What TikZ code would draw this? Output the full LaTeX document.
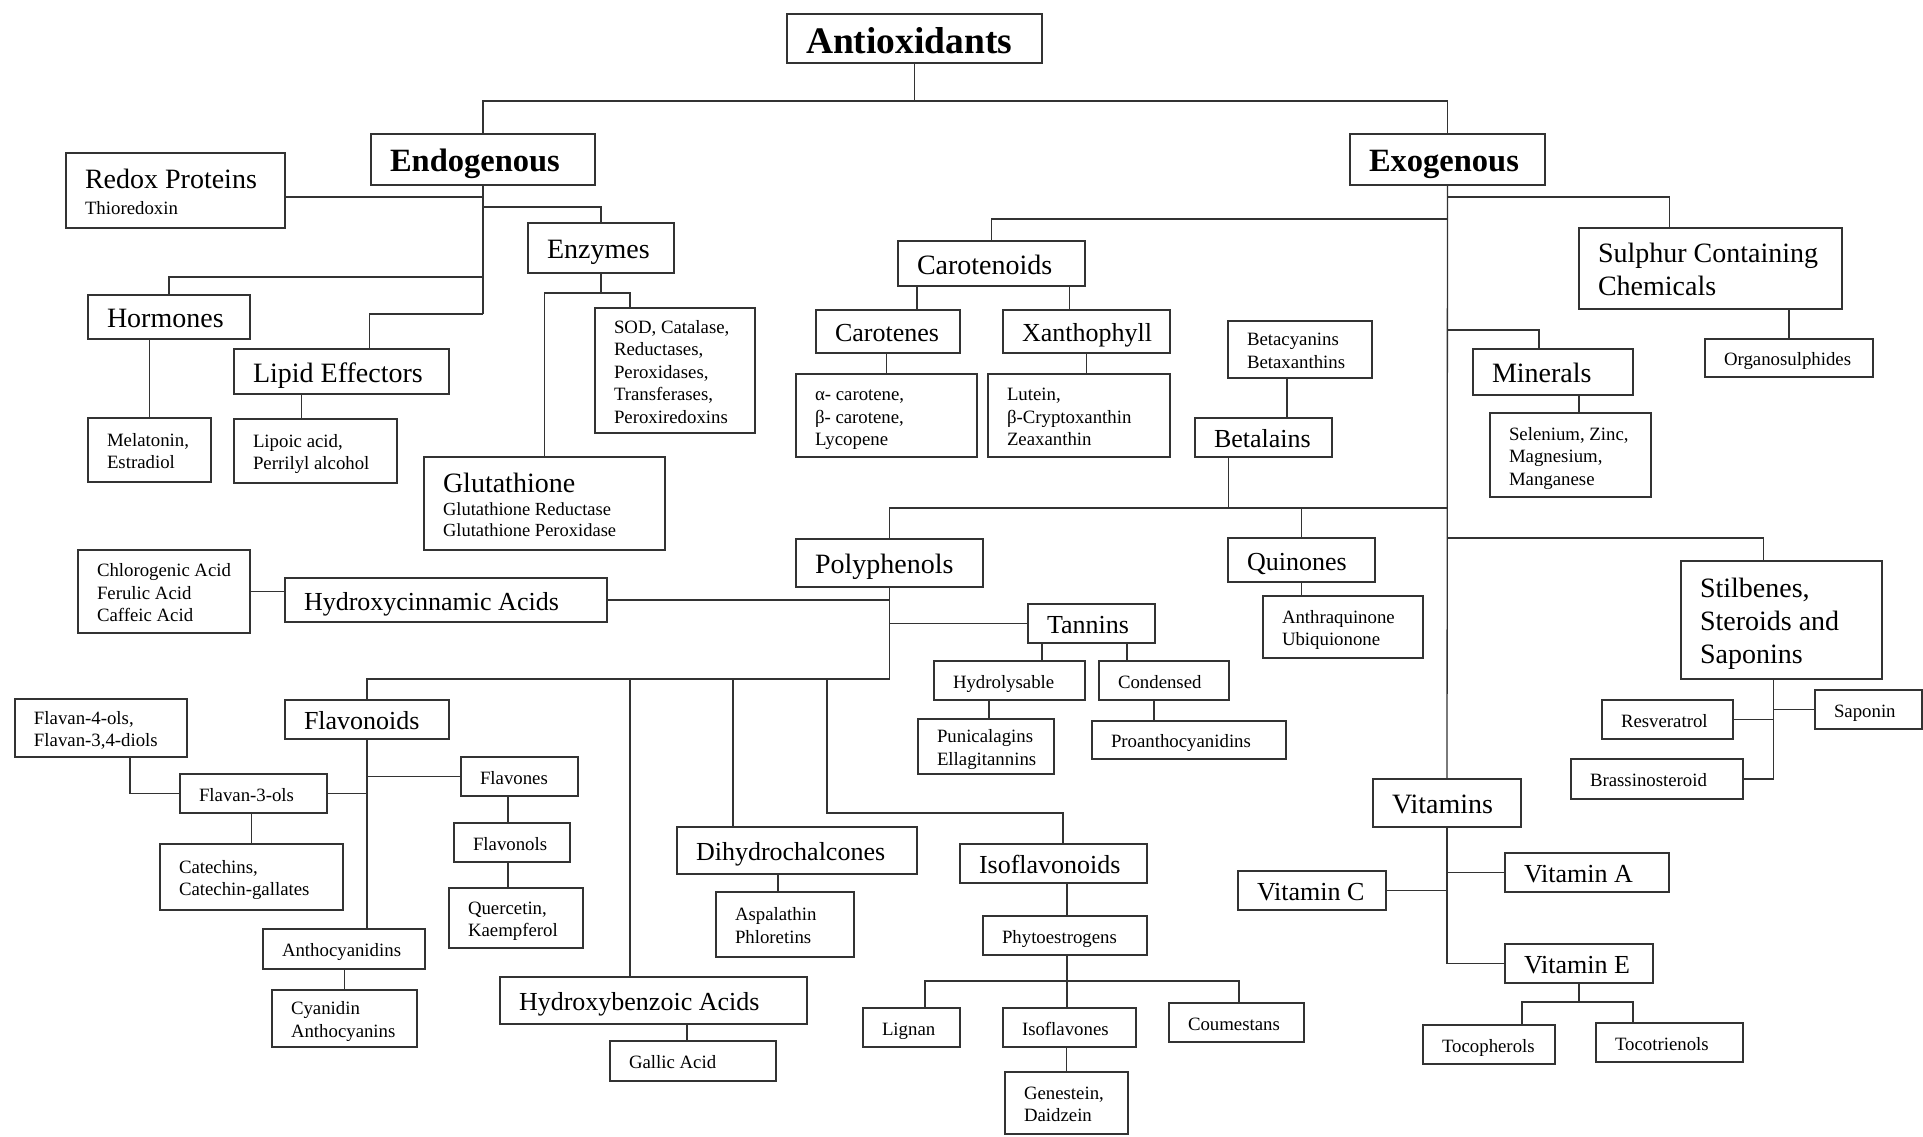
\documentclass[tikz,border=0pt]{standalone}
\usepackage{fontspec}
\setmainfont{Liberation Serif}
\usepackage{tikz}
\usetikzlibrary{positioning}

\tikzset{
  box/.style={draw=black!80, line width=1.5pt, anchor=north west, align=flush left,
    inner xsep=19pt, inner ysep=0pt, outer sep=0pt},
  wh/.style 2 args={minimum width=#1, minimum height=#2, text width=#1-38},
  rootfont/.style={font=\fontsize{37.5}{42}\selectfont\bfseries, text height=30.5, text depth=0pt},
  head/.style={font=\fontsize{32.5}{36}\selectfont\bfseries, text height=24, text depth=0pt},
  mida/.style={font=\fontsize{28}{33}\selectfont, text height=21.5, text depth=0pt},
  midb/.style={font=\fontsize{26}{31}\selectfont, text height=20, text depth=0pt},
  sm/.style={font=\fontsize{18.8}{22.5}\selectfont, text height=15.3, text depth=0pt},
  rows/.style={text depth=#1},
  link/.style={draw=black!80, line width=1.3pt},
}

\begin{document}
\begin{tikzpicture}[x=1pt, y=-1pt]
\useasboundingbox (0,0) rectangle (1923,1136);
\fill[white] (0,0) rectangle (1923,1136);

% top levels
\node[box, rootfont, wh={255}{49}] (anti) at (787,14) {Antioxidants};
\node[box, head, wh={224}{51}] (endo) at (371,134) {Endogenous};
\node[box, head, wh={195}{51}] (exo) at (1350,134) {Exogenous};

% endogenous
\node[box, sm, wh={219}{75}, text height=21.5, rows=26] (redox) at (66,153) {{\fontsize{28}{33}\selectfont Redox~Proteins}\\[3.5pt]Thioredoxin};
\node[box, mida, wh={146}{50}] (enz) at (528,223) {Enzymes};
\node[box, mida, wh={162}{44}] (horm) at (88,295) {Hormones};
\node[box, mida, wh={215}{45}] (lipid) at (234,349) {Lipid~Effectors};
\node[box, sm, wh={123}{64}, rows=22.5] (melat) at (88,418) {Melatonin,\\Estradiol};
\node[box, sm, wh={163}{64}, rows=22.5] (lipoic) at (234,419) {Lipoic~acid,\\Perrilyl~alcohol};
\node[box, sm, wh={160}{125}, rows=90] (sod) at (595,308) {SOD,~Catalase,\\Reductases,\\Peroxidases,\\Transferases,\\Peroxiredoxins};
\node[box, font=\fontsize{18.5}{20.5}\selectfont, wh={241}{93}, text height=21.5, rows=43] (glut) at (424,457) {{\fontsize{28}{33}\selectfont Glutathione}\\[2.5pt]Glutathione~Reductase\\Glutathione~Peroxidase};

% polyphenols
\node[box, sm, wh={172}{83}, rows=45] (chloro) at (78,550) {Chlorogenic~Acid\\Ferulic~Acid\\Caffeic~Acid};
\node[box, midb, wh={322}{44}] (hca) at (285,578) {Hydroxycinnamic~Acids};
\node[box, mida, wh={187}{48}] (poly) at (796,539) {Polyphenols};
\node[box, sm, wh={172}{58}, rows=22.5] (flav4) at (15,699) {Flavan-4-ols,\\Flavan-3,4-diols};
\node[box, midb, wh={164}{39}] (flavo) at (285,700) {Flavonoids};
\node[box, sm, wh={147}{39}] (flav3) at (180,774) {Flavan-3-ols};
\node[box, sm, wh={183}{66}, rows=22.5] (cate) at (160,844) {Catechins,\\Catechin-gallates};
\node[box, sm, wh={162}{40}] (antho) at (263,929) {Anthocyanidins};
\node[box, sm, wh={145}{57}, rows=22.5] (cyan) at (272,990) {Cyanidin\\Anthocyanins};
\node[box, sm, wh={117}{39}] (flavones) at (461,757) {Flavones};
\node[box, sm, wh={116}{39}] (flavonols) at (454,823) {Flavonols};
\node[box, sm, wh={134}{60}, rows=22.5] (querc) at (449,888) {Quercetin,\\Kaempferol};
\node[box, midb, wh={307}{47}] (hba) at (500,977) {Hydroxybenzoic~Acids};
\node[box, sm, wh={166}{40}] (gallic) at (610,1041) {Gallic~Acid};
\node[box, midb, wh={240}{47}] (dihy) at (677,827) {Dihydrochalcones};
\node[box, sm, wh={138}{65}, rows=22.5] (aspal) at (716,892) {Aspalathin\\Phloretins};
\node[box, midb, wh={187}{39}] (isoflo) at (960,844) {Isoflavonoids};
\node[box, sm, wh={164}{39}] (phyto) at (983,916) {Phytoestrogens};
\node[box, sm, wh={97}{39}] (lignan) at (863,1008) {Lignan};
\node[box, sm, wh={133}{39}] (isofla) at (1003,1008) {Isoflavones};
\node[box, sm, wh={135}{39}] (coum) at (1169,1003) {Coumestans};
\node[box, sm, wh={123}{62}, rows=22.5] (genes) at (1005,1072) {Genestein,\\Daidzein};
\node[box, midb, wh={127}{39}] (tann) at (1028,604) {Tannins};
\node[box, sm, wh={151}{39}] (hydro) at (934,661) {Hydrolysable};
\node[box, sm, wh={130}{39}] (cond) at (1099,661) {Condensed};
\node[box, sm, wh={136}{55}, rows=22.5] (punic) at (918,719) {Punicalagins\\Ellagitannins};
\node[box, sm, wh={194}{38}] (proan) at (1092,721) {Proanthocyanidins};
\node[box, midb, wh={147}{44}] (quin) at (1228,538) {Quinones};
\node[box, sm, wh={160}{62}, rows=22.5] (anthra) at (1263,596) {Anthraquinone\\Ubiquionone};

% exogenous
\node[box, mida, wh={187}{45}] (carot) at (898,241) {Carotenoids};
\node[box, midb, wh={144}{43}] (caroten) at (816,310) {Carotenes};
\node[box, midb, wh={167}{43}] (xanth) at (1003,310) {Xanthophyll};
\node[box, sm, wh={181}{83}, rows=45] (alpha) at (796,374) {α-~carotene,\\β-~carotene,\\Lycopene};
\node[box, sm, wh={182}{83}, rows=45] (lutein) at (988,374) {Lutein,\\β-Cryptoxanthin\\Zeaxanthin};
\node[box, sm, wh={144}{57}, rows=22.5] (betac) at (1228,321) {Betacyanins\\Betaxanthins};
\node[box, midb, wh={137}{39}] (betal) at (1195,418) {Betalains};
\node[box, mida, wh={263}{81}, rows=33] (sulph) at (1579,228) {Sulphur~Containing\\Chemicals};
\node[box, sm, wh={168}{38}] (organ) at (1705,339) {Organosulphides};
\node[box, mida, wh={160}{46}] (miner) at (1473,349) {Minerals};
\node[box, sm, wh={161}{84}, rows=45] (selen) at (1490,413) {Selenium,~Zinc,\\Magnesium,\\Manganese};
\node[box, mida, wh={201}{118}, rows=66] (stilb) at (1681,561) {Stilbenes,\\Steroids~and\\Saponins};
\node[box, sm, wh={107}{39}] (sapon) at (1815,690) {Saponin};
\node[box, sm, wh={131}{39}] (resv) at (1602,700) {Resveratrol};
\node[box, sm, wh={172}{40}] (brass) at (1571,759) {Brassinosteroid};
\node[box, mida, wh={148}{48}] (vits) at (1373,779) {Vitamins};
\node[box, midb, wh={148}{39}] (vitc) at (1238,871) {Vitamin~C};
\node[box, midb, wh={164}{39}] (vita) at (1505,853) {Vitamin~A};
\node[box, midb, wh={148}{39}] (vite) at (1505,944) {Vitamin~E};
\node[box, sm, wh={132}{39}] (tocoph) at (1423,1025) {Tocopherols};
\node[box, sm, wh={147}{39}] (tocot) at (1596,1023) {Tocotrienols};

% top links
\coordinate (rootbus) at ([yshift=-38]anti.south);
\draw[link] (anti) -- (rootbus);
\draw[link] (rootbus) -| (endo);
\draw[link] (rootbus) -| (exo);

% endogenous links
\coordinate (endoend) at ([yshift=-129]endo.south);
\coordinate (endoR) at ([yshift=-12]endo.south);
\draw[link] (endo) -- (endoend);
\draw[link] (endoR) -- (endoR -| redox.east);
\draw[link] ([yshift=-22]endo.south) -| (enz);
\draw[link] ([yshift=-92]endo.south) -| (horm);
\draw[link] (endoend) -| ([xshift=28]lipid.north);
\draw[link] (melat.north) |- (horm.south);
\draw[link] ([xshift=-14]lipoic.north) |- (lipid.south);
\coordinate (enzbus) at ([yshift=-20]enz.south);
\draw[link] (enz) -- (enzbus);
\draw[link] (enzbus) -| ([xshift=-45]sod.north);
\draw[link] (enzbus) -| (glut);

% exogenous links
\draw[link] (exo) -- (vits);
\draw[link] ([yshift=-12]exo.south) -| ([xshift=-41]sulph.north);
\draw[link] (organ.north) |- (sulph.south);
\draw[link] ([yshift=-34]exo.south) -| (carot);
\draw[link] ([xshift=29]caroten.north) |- (carot.south);
\draw[link] ([xshift=-17]xanth.north) |- (carot.south);
\draw[link] (alpha.north) |- (caroten.south);
\draw[link] (xanth.south) |- (lutein.north);
\draw[link] ([yshift=-145]exo.south) -| ([xshift=-14]miner.north);
\draw[link] ([xshift=26]miner.south) |- (selen.north);
\draw[link] ([xshift=-13]betac.south) |- (betal.north);
\coordinate (midbus) at ([yshift=-323]exo.south);
\draw[link] (midbus) -| (poly);
\draw[link] ([xshift=-35]betal.south) |- (midbus);
\draw[link] (midbus) -| (quin);
\draw[link] (quin.south) |- (anthra.north);
\draw[link] ([yshift=-353]exo.south) -| ([xshift=-18]stilb.north);
\draw[link] ([xshift=-8]stilb.south) |- (brass.east);
\draw[link] (sapon.west) -| ([xshift=-8]stilb.south);
\draw[link] (resv.east) -| ([xshift=-8]stilb.south);
\draw[link] (vits) |- (vite);
\draw[link] (vitc.east) -| (vits.south);
\draw[link] (vita.west) -| (vits.south);
\coordinate (vitebus) at ([yshift=-19]vite.south);
\draw[link] (vite) -- (vitebus);
\draw[link] (vitebus) -| ([xshift=33]tocoph.north);
\draw[link] (vitebus) -| ([xshift=-36.5]tocot.north);

% polyphenol links
\coordinate (polybus) at ([yshift=-92]poly.south);
\draw[link] (poly) -- (polybus);
\draw[link] (hca.east) -| (poly.south);
\draw[link] (tann.west) -| (poly.south);
\draw[link] (chloro.east) -- (chloro.east -| hca.west);
\draw[link] (polybus) -| (flavo);
\draw[link] (polybus) -| ([xshift=-23.5]hba.north);
\draw[link] (polybus) -| ([xshift=-64]dihy.north);
\coordinate (isoknee) at (827,813);
\draw[link] (polybus -| isoknee) -- (isoknee) -| ([xshift=9.5]isoflo.north);
\draw[link] ([xshift=-6]gallic.north) |- (hba.south);
\draw[link] ([xshift=-7]aspal.north) |- (dihy.south);
\draw[link] ([xshift=2]phyto.north) |- (isoflo.south);
\coordinate (phytobus) at ([xshift=2,yshift=-26]phyto.south);
\draw[link] ([xshift=2]phyto.south) -- (phytobus);
\draw[link] (phytobus) -| ([xshift=13.5]lignan.north);
\draw[link] (phytobus) -| ([xshift=2.5]coum.north);
\draw[link] (phytobus) -- (phytobus |- isofla.north);
\draw[link] (genes.north) |- (isofla.south);
\draw[link] ([xshift=32.5]hydro.north) |- (tann.south);
\draw[link] ([xshift=-37]cond.north) |- (tann.south);
\draw[link] ([xshift=3]punic.north) |- (hydro.south);
\draw[link] ([xshift=-35]proan.north) |- (cond.south);

% flavonoid links
\draw[link] (flavo.south) -- (flavo.south |- antho.north);
\draw[link] (flavones.west) -| (flavo.south);
\draw[link] (flav3.east) -| (flavo.south);
\draw[link] ([xshift=29]flav4.south) |- (flav3.west);
\draw[link] (cate.north) |- (flav3.south);
\draw[link] (cyan.north) |- (antho.south);
\draw[link] ([xshift=-11.5]flavones.south) |- (flavonols.north);
\draw[link] ([xshift=-4]flavonols.south) |- (querc.north);
\end{tikzpicture}
\end{document}
